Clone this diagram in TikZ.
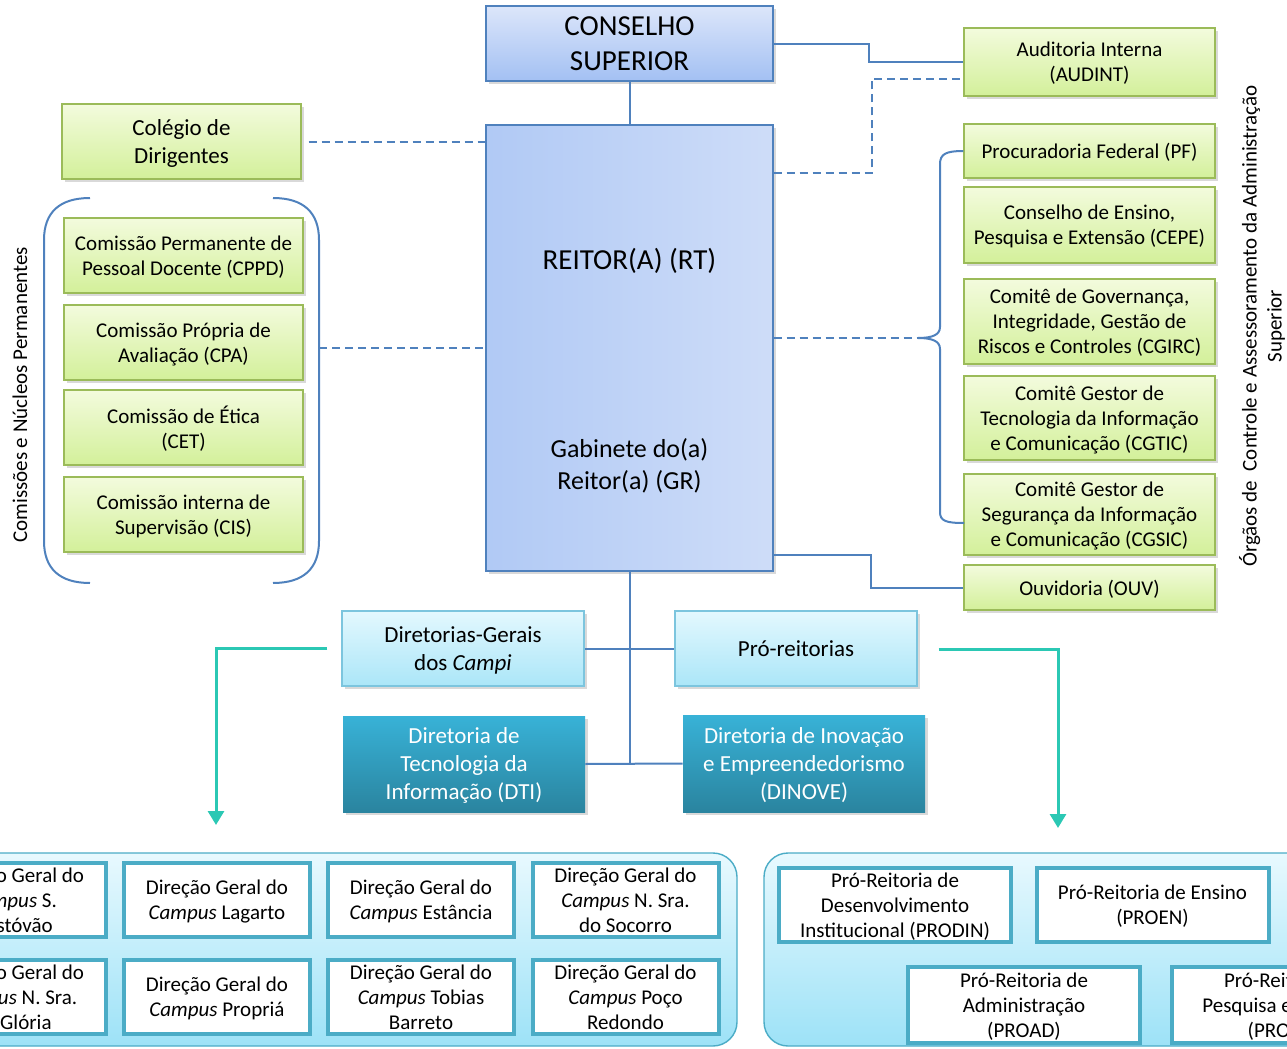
\documentclass[tikz,border=0pt]{standalone}
\usepackage{fontspec}
\setmainfont{Carlito}
\usetikzlibrary{calc,shadows,arrows.meta}
\definecolor{bluedge}{HTML}{4F81BD}
\definecolor{bluetop}{HTML}{DCE6FA}
\definecolor{bluebot}{HTML}{A3C0F3}
\definecolor{greenedge}{HTML}{9BBB59}
\definecolor{greentop}{HTML}{F3FBDD}
\definecolor{greenbot}{HTML}{D3F09A}
\definecolor{cyanedge}{HTML}{7CC5DE}
\definecolor{cyantop}{HTML}{E3F8FE}
\definecolor{cyanbot}{HTML}{ABE6F8}
\definecolor{tealtop}{HTML}{38B2D7}
\definecolor{tealbot}{HTML}{2A849F}
\definecolor{arrowteal}{HTML}{2BC8B4}
\definecolor{conedge}{HTML}{4BACC6}
\definecolor{contop}{HTML}{E8F9FE}
\definecolor{conbot}{HTML}{9DE2F7}
\newcommand{\orgsmall}{\fontsize{10.5}{12.5}\selectfont}
\newcommand{\orgmid}{\fontsize{11.5}{14}\selectfont}
\newcommand{\orggr}{\fontsize{13}{16}\selectfont}
\newcommand{\orgbig}{\fontsize{14.5}{17.5}\selectfont}
\tikzstyle{orgbox}=[inner sep=0pt, align=center, text depth=0pt, drop shadow={shadow xshift=1.5pt,shadow yshift=-1.5pt,opacity=0.3}]
\tikzstyle{bluebox}=[orgbox, draw=bluedge, line width=0.7pt, top color=bluetop, bottom color=bluebot]
\tikzstyle{reitorbox}=[orgbox, draw=bluedge, line width=0.7pt, left color=bluebot!85!white, right color=bluetop!75!bluebot]
\tikzstyle{greenbox}=[orgbox, draw=greenedge, line width=0.7pt, top color=greentop, bottom color=greenbot, font=\orgsmall]
\tikzstyle{cyanbox}=[orgbox, draw=cyanedge, line width=0.6pt, top color=cyantop, bottom color=cyanbot, font=\orgmid]
\tikzstyle{tealbox}=[orgbox, top color=tealtop, bottom color=tealbot, text=white, font=\orgmid]
\tikzstyle{unitbox}=[draw=conedge, line width=2pt, fill=white, inner sep=0pt, align=center, text depth=0pt, font=\orgsmall]
\tikzstyle{container}=[draw=conedge, line width=0.7pt, rounded corners=12pt, top color=contop, bottom color=conbot]
\tikzstyle{conn}=[draw=bluedge, line width=1pt]
\tikzstyle{dashconn}=[conn, dash pattern=on 4pt off 2.5pt]
\tikzstyle{tealarrow}=[draw=arrowteal, line width=1.5pt, -{Triangle[width=8pt,length=7pt]}, arrowteal]

\begin{document}
\begin{tikzpicture}[x=0.5pt,y=-0.5pt]
\useasboundingbox (0,0) rectangle (1287,1049);
\clip (0,0) rectangle (1287,1049);

% central column
\node[bluebox, minimum width=143.5pt, minimum height=37.5pt, font=\orgbig] (cs) at (629.5,43.5) {CONSELHO\\SUPERIOR};
\node[reitorbox, minimum width=143.5pt, minimum height=223pt] (rt) at (629.5,348) {};
\node[font=\orgbig] (rttitle) at (629.5,261) {REITOR(A) (RT)};
\node[font=\orggr, align=center] (gr) at (629.5,466) {Gabinete do(a)\\Reitor(a) (GR)};
\draw[conn] (cs.south) -- (rt.north);

% left side
\node[greenbox, minimum width=119.5pt, minimum height=37.5pt, font=\orgmid] (cd) at (181.5,141.5) {Colégio de\\Dirigentes};
\foreach \n/\y/\txt in {cppd/255.5/{Comissão Permanente de\\Pessoal Docente (CPPD)},
    cpa/342.5/{Comissão Própria de\\Avaliação (CPA)},
    cet/427.5/{Comissão de Ética\\(CET)},
    cis/514.5/{Comissão interna de\\Supervisão (CIS)}}
  \node[greenbox, minimum width=119.5pt, minimum height=37.5pt] (\n) at (183.5,\y) {\txt};
\draw[conn] (90,198) .. controls (60,198) and (44,212) .. (44,240) -- (44,541) .. controls (44,569) and (60,583) .. (90,583);
\draw[conn] (273,198) .. controls (303,198) and (319,212) .. (319,240) -- (319,541) .. controls (319,569) and (303,583) .. (273,583);
\coordinate (lgrp) at (319,348);
\draw[dashconn] (lgrp) -- (rt.west);
\draw[dashconn] ($(cd.east)+(7,0)$) -- (rt.west |- cd.east);
\node[rotate=90, font=\orgsmall] (cnp) at (20,395) {Comissões e Núcleos Permanentes};

% right side
\node[greenbox, minimum width=125.5pt, minimum height=34pt] (aud) at (1089.5,62) {Auditoria Interna\\(AUDINT)};
\node[greenbox, minimum width=125.5pt, minimum height=27pt] (pf) at (1089.5,151) {Procuradoria Federal (PF)};
\node[greenbox, minimum width=125.5pt, minimum height=38pt] (cepe) at (1089.5,225) {Conselho de Ensino,\\Pesquisa e Extensão (CEPE)};
\node[greenbox, minimum width=125.5pt, minimum height=42.5pt] (cgirc) at (1089.5,321.5) {Comitê de Governança,\\Integridade, Gestão de\\Riscos e Controles (CGIRC)};
\node[greenbox, minimum width=125.5pt, minimum height=42pt] (cgtic) at (1089.5,418) {Comitê Gestor de\\Tecnologia da Informação\\e Comunicação (CGTIC)};
\node[greenbox, minimum width=125.5pt, minimum height=40.5pt] (cgsic) at (1089.5,514.5) {Comitê Gestor de\\Segurança da Informação\\e Comunicação (CGSIC)};
\node[greenbox, minimum width=125.5pt, minimum height=22.5pt] (ouv) at (1089.5,587.5) {Ouvidoria (OUV)};
\draw[conn] (cs.east) -- ++(95,0) |- (aud.west);
\coordinate (audd) at ($(aud.west)+(0,17)$);
\coordinate (rtd) at ($(rt.north east)+(0,49)$);
\draw[dashconn] (rtd) -- ++(98,0) |- (audd);
\draw[conn] (pf.west) .. controls (946,151) and (940,154) .. (940,164) -- (940,327)
  .. controls (940,335) and (932,338) .. (918,338) coordinate (rbr)
  .. controls (932,338) and (940,341) .. (940,349) -- (940,512)
  .. controls (940,521) and (946,523) .. (964,523);
\draw[dashconn] (rt.east |- rbr) -- (rbr);
\draw[conn] ($(rt.south east)+(0,-17)$) -- ++(97,0) |- (ouv.west);
\node[rotate=90, font=\orgsmall, align=center] (ocaas) at (1262,326) {Órgãos de\ \ Controle e Assessoramento da Administração\\Superior};

% lower level
\node[cyanbox, minimum width=121pt, minimum height=37.5pt] (dgc) at (463,648.5) {Diretorias-Gerais\\dos \textit{Campi}};
\node[cyanbox, minimum width=121pt, minimum height=37.5pt] (pro) at (796,648.5) {Pró-reitorias};
\node[tealbox, minimum width=121pt, minimum height=48pt] (dti) at (464,764) {Diretoria de\\Tecnologia da\\Informação (DTI)};
\node[tealbox, minimum width=121pt, minimum height=48.5pt] (dinove) at (804,763.5) {Diretoria de Inovação\\e Empreendedorismo\\(DINOVE)};
\draw[conn] (rt.south) -- (rt.south |- dti.east);
\draw[conn] (dgc.east) -- (pro.west);
\draw[conn] (dti.east) -- (dinove.west);
\coordinate (campi) at (216,825);
\coordinate (reits) at (1058,828);
\draw[tealarrow] ($(dgc.west)+(-14,0)$) -| (campi);
\draw[tealarrow] ($(pro.east)+(21,1)$) -| (reits);

% campi
\draw[container] (-40,853) rectangle (737,1046);
\foreach \n/\x/\y/\txt in {sc/13/900/{Direção Geral do\\\textit{Campus} S.\\Cristóvão},
    lag/217/900/{Direção Geral do\\\textit{Campus} Lagarto},
    est/421/900/{Direção Geral do\\\textit{Campus} Estância},
    nss/625.5/900/{Direção Geral do\\\textit{Campus} N. Sra.\\do Socorro},
    nsg/13/997/{Direção Geral do\\\textit{Campus} N. Sra.\\da Glória},
    prp/217/997/{Direção Geral do\\\textit{Campus} Propriá},
    tob/421/997/{Direção Geral do\\\textit{Campus} Tobias\\Barreto},
    pr/625.5/997/{Direção Geral do\\\textit{Campus} Poço\\Redondo}}
  \node[unitbox, minimum width=93pt, minimum height=37pt] (\n) at (\x,\y) {\txt};

% pro-reitorias
\draw[container] (764,853) rectangle (1330,1046);
\node[unitbox, minimum width=116pt, minimum height=37pt] (prodin) at (895,905) {Pró-Reitoria de\\Desenvolvimento\\Institucional (PRODIN)};
\node[unitbox, minimum width=116pt, minimum height=37pt] (proen) at (1152.5,905) {Pró-Reitoria de Ensino\\(PROEN)};
\node[unitbox, minimum width=116pt, minimum height=38pt] (proad) at (1024,1005) {Pró-Reitoria de\\Administração\\(PROAD)};
\node[unitbox, minimum width=116pt, minimum height=38pt] (propex) at (1288,1005) {Pró-Reitoria de\\Pesquisa e Extensão\\(PROPEX)};
\end{tikzpicture}
\end{document}
